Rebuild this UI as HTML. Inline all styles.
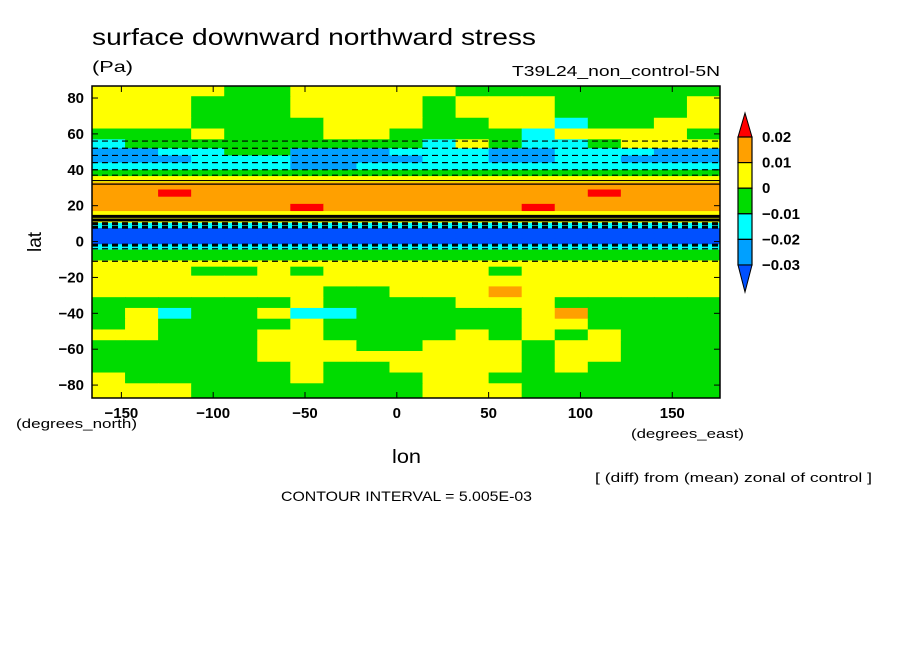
<!DOCTYPE html>
<html><head><meta charset="utf-8"><style>
body{margin:0;background:#fff;}
svg text{font-family:"Liberation Sans",sans-serif;fill:#000;}
</style></head><body>
<svg id="chart" width="904" height="654" xmlns="http://www.w3.org/2000/svg">
<rect width="904" height="654" fill="#fff"/>
<text x="92" y="45" font-size="23" textLength="444" lengthAdjust="spacingAndGlyphs">surface downward northward stress</text>
<text x="92" y="72" font-size="16" textLength="41" lengthAdjust="spacingAndGlyphs">(Pa)</text>
<text x="512" y="76" font-size="15" textLength="208" lengthAdjust="spacingAndGlyphs">T39L24_non_control-5N</text>
<g id="cells"></g>
<g id="lines"></g>
<rect x="92" y="86" width="628" height="312" fill="none" stroke="#000" stroke-width="1.5"/>
<g id="axes"></g>
<text transform="translate(41,242) rotate(-90)" font-size="19" text-anchor="middle">lat</text>
<text x="392" y="463" font-size="19" textLength="29" lengthAdjust="spacingAndGlyphs">lon</text>
<text x="16" y="428" font-size="13" textLength="121" lengthAdjust="spacingAndGlyphs">(degrees_north)</text>
<text x="631" y="438" font-size="13" textLength="113" lengthAdjust="spacingAndGlyphs">(degrees_east)</text>
<text x="595" y="482" font-size="13" textLength="277" lengthAdjust="spacingAndGlyphs">[ (diff) from (mean) zonal of control ]</text>
<text x="281" y="501" font-size="14" textLength="251" lengthAdjust="spacingAndGlyphs">CONTOUR INTERVAL = 5.005E-03</text>
<g id="legend"></g>
</svg>
<script>
const lonCenters=[-157,-139,-121,-103,-85,-67,-49,-31,-13,5,23,41,59,77,95,113,131,149,167];
const latCenters=[84,78,72,66,60,54,50,46,42,38,35,31,27,23,19,15,12,9,6,3,0,-3,-6,-9,-12,-16,-22,-28,-34,-40,-46,-52,-58,-64,-70,-76,-82];
const codeValues={r:0.025,o:0.015,y:0.005,g:-0.005,c:-0.015,b:-0.025,d:-0.035};
const gridRows=[
"yyyyggyyyyygggggggg",
"yyygggyyyygyyyggggy",
"yyygggyyyygyyyggggy",
"yyyggggyyyggyycggyy",
"gggygggyyggggcyyyy",
"cgggggggggcygccgyyy",
"bbccggbbbcccbbcccbb",
"bbbcccbbbbccbbccbbb",
"ccccccbbccccccccccc",
"ggggggggggggggggggg",
"yyyyyyyyyyyyyyyyyyy",
"ooooooooooooooooooo",
"oorooooooooooooroooo",
"ooooooooooooooooooo",
"oooooorooooooroooooo",
"yyyyyyyyyyyyyyyyyyy",
"yyyyyyyyyyyyyyyyyyy",
"ccccccccccccccccccc",
"ddddddddddddddddddd",
"ddddddddddddddddddd",
"ddddddddddddddddddd",
"ccccccccccccccccccc",
"ggggggggggggggggggg",
"ggggggggggggggggggg",
"yyyyyyyyyyyyyyyyyyy",
"yyyggygyyyyygyyyyyy",
"yyyyyyyyyyyyyyyyyyy",
"yyyyyyyggyyyoyyyyyy",
"ggggggyggggyyyggggg",
"gycggyccgggggyoggggg",
"gyggggyggggggyygggg",
"yygggyyggggygygyggg",
"gggggyyyggyyygyyggg",
"gggggyyyyyyyygyyggg",
"ggggggyggyyyygyggggg",
"ygggggygggyyggggggg",
"yyygggggggyyyggggggg"
];
const tickLat=[-80,-60,-40,-20,0,20,40,60,80];
const tickLon=[-150,-100,-50,0,50,100,150];
const legendLevels=["0.02","0.01","0","\u22120.01","\u22120.02","\u22120.03"];
const contourLats=[56,52,48,44,40,37,34,32,14,12,10,8,-2,-4,-11];

const NS='http://www.w3.org/2000/svg';
const x0=92,x1=720,y0=86,y1=398,lonMin=-166,lonMax=176,latMax=86.7,latMin=-87.2;
function xs(lon){return x0+(lon-lonMin)*(x1-x0)/(lonMax-lonMin);}
function ys(lat){return y0+(latMax-lat)*(y1-y0)/(latMax-latMin);}
function color(v){if(v>0.02)return'#ff0000';if(v>0.01)return'#ffa000';if(v>0)return'#ffff00';if(v>-0.01)return'#00dc00';if(v>-0.02)return'#00ffff';if(v>-0.03)return'#00a0ff';return'#0050ff';}
function mk(t,a,p){const e=document.createElementNS(NS,t);for(const k in a)e.setAttribute(k,a[k]);p.appendChild(e);return e;}
const cells=document.getElementById('cells');
const dLon=lonCenters[1]-lonCenters[0];
for(let r=0;r<latCenters.length;r++){
  const top=r===0?latMax:(latCenters[r-1]+latCenters[r])/2;
  const bot=r===latCenters.length-1?latMin:(latCenters[r]+latCenters[r+1])/2;
  for(let c=0;c<lonCenters.length;c++){
    const v=codeValues[gridRows[r][c]]??-0.005;
    const l=Math.max(lonMin,lonCenters[c]-dLon/2),rr=Math.min(lonMax,lonCenters[c]+dLon/2);
    const e=mk('rect',{x:xs(l),y:ys(top),width:xs(rr)-xs(l)+0.5,height:ys(bot)-ys(top)+0.5,fill:color(v)},cells);
    
    
  }
}
const lines=document.getElementById('lines');
contourLats.forEach(lat=>{
  const e=mk('line',{x1:x0,x2:x1,y1:ys(lat),y2:ys(lat),stroke:'#000','stroke-width':lat>-3&&lat<15?3:1.2,'stroke-dasharray':lat<0||lat>36||(lat>7&&lat<11)?'6,4':'none'},lines);
  
  
});
const axes=document.getElementById('axes');
tickLat.forEach(t=>{
  const y=ys(t);
  mk('line',{x1:x0,x2:x0+6,y1:y,y2:y,stroke:'#000'},axes);
  mk('line',{x1:x1-6,x2:x1,y1:y,y2:y,stroke:'#000'},axes);
  const e=mk('text',{x:84,y:y+5,'font-size':15,'font-weight':'bold','text-anchor':'end'},axes);
  e.textContent=t===0?'0':(t<0?'\u2212'+(-t):t);
  
  
});
tickLon.forEach(t=>{
  const x=xs(t);
  mk('line',{x1:x,x2:x,y1:y1,y2:y1-6,stroke:'#000'},axes);
  mk('line',{x1:x,x2:x,y1:y0,y2:y0+6,stroke:'#000'},axes);
  const e=mk('text',{x:x,y:418,'font-size':15,'font-weight':'bold','text-anchor':'middle'},axes);
  e.textContent=t===0?'0':(t<0?'\u2212'+(-t):t);
  
  
});
const lg=document.getElementById('legend');
const lgCols=['#ffa000','#ffff00','#00dc00','#00ffff','#00a0ff'];
mk('polygon',{points:'745,113 752,137 738,137',fill:'#ff0000',stroke:'#000'},lg);
lgCols.forEach((c,i)=>{mk('rect',{x:738,y:137+i*25.6,width:14,height:25.6,fill:c,stroke:'#000','stroke-width':1.2},lg);});
mk('polygon',{points:'738,265 752,265 745,292',fill:'#0050ff',stroke:'#000'},lg);
legendLevels.forEach((s,i)=>{
  const e=mk('text',{x:762,y:142+i*25.6,'font-size':15,'font-weight':'bold'},lg);
  e.textContent=s;
  
  
});
</script>
</body></html>
